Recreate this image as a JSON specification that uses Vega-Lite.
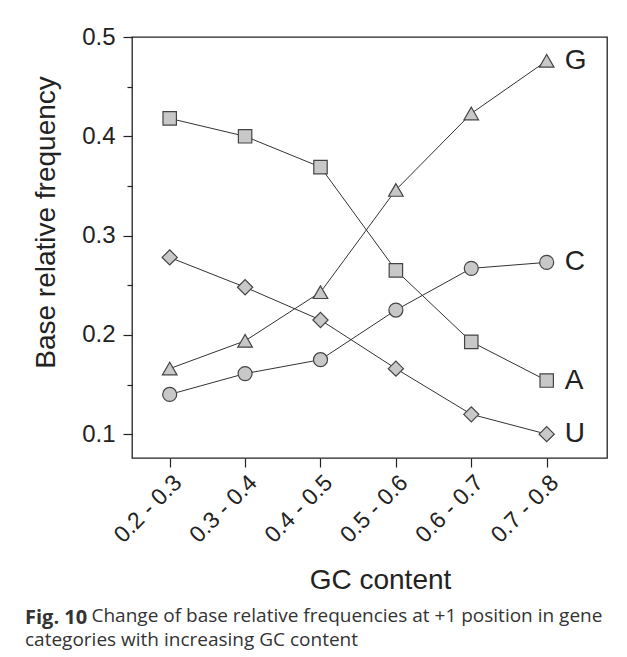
{
  "$schema": "https://vega.github.io/schema/vega-lite/v6.json",
  "autosize": "none",
  "width": 475,
  "height": 421,
  "padding": {"left": 132, "top": 37, "right": 20, "bottom": 199},
  "background": "white",
  "config": {
    "font": "Liberation Sans",
    "view": {"stroke": "#222", "strokeWidth": 1.3},
    "axis": {
      "domain": false,
      "grid": false,
      "tickColor": "#222",
      "tickWidth": 1.2,
      "labelColor": "#222",
      "titleColor": "#222",
      "labelFont": "Liberation Sans",
      "titleFont": "Liberation Sans",
      "titleFontWeight": "normal",
      "labelOverlap": false,
      "labelFlush": false
    }
  },
  "title": {
    "text": "Fig. 10",
    "subtitle": [
      "\u200b\u2003\u2003\u2003\u2002Change of base relative frequencies at +1 position in gene",
      "categories with increasing GC content"
    ],
    "orient": "bottom",
    "anchor": "start",
    "frame": "group",
    "dx": -107,
    "offset": 13,
    "font": "Open Sans",
    "fontSize": 20,
    "fontWeight": "bold",
    "color": "#333",
    "subtitleFont": "Open Sans",
    "subtitleFontSize": 19,
    "subtitleFontWeight": "normal",
    "subtitleColor": "#333",
    "subtitleLineHeight": 24,
    "subtitlePadding": -21
  },
  "data": {
    "values": [
      {"base": "A", "gc": 1, "freq": 0.418},
      {"base": "A", "gc": 2, "freq": 0.400},
      {"base": "A", "gc": 3, "freq": 0.369},
      {"base": "A", "gc": 4, "freq": 0.265},
      {"base": "A", "gc": 5, "freq": 0.193},
      {"base": "A", "gc": 6, "freq": 0.154},
      {"base": "C", "gc": 1, "freq": 0.140},
      {"base": "C", "gc": 2, "freq": 0.161},
      {"base": "C", "gc": 3, "freq": 0.175},
      {"base": "C", "gc": 4, "freq": 0.225},
      {"base": "C", "gc": 5, "freq": 0.267},
      {"base": "C", "gc": 6, "freq": 0.273},
      {"base": "G", "gc": 1, "freq": 0.166},
      {"base": "G", "gc": 2, "freq": 0.194},
      {"base": "G", "gc": 3, "freq": 0.243},
      {"base": "G", "gc": 4, "freq": 0.346},
      {"base": "G", "gc": 5, "freq": 0.423},
      {"base": "G", "gc": 6, "freq": 0.476},
      {"base": "U", "gc": 1, "freq": 0.278},
      {"base": "U", "gc": 2, "freq": 0.248},
      {"base": "U", "gc": 3, "freq": 0.215},
      {"base": "U", "gc": 4, "freq": 0.166},
      {"base": "U", "gc": 5, "freq": 0.120},
      {"base": "U", "gc": 6, "freq": 0.100}
    ]
  },
  "encoding": {
    "x": {
      "field": "gc",
      "type": "quantitative",
      "scale": {"domain": [0.5, 6.8], "nice": false, "zero": false},
      "axis": {
        "values": [1, 2, 3, 4, 5, 6],
        "labelExpr": "['','0.2 - 0.3','0.3 - 0.4','0.4 - 0.5','0.5 - 0.6','0.6 - 0.7','0.7 - 0.8'][datum.value]",
        "labelAngle": -45,
        "labelFontSize": 23,
        "labelPadding": 4,
        "tickSize": 9,
        "title": "GC content",
        "titleFontSize": 28,
        "titlePadding": 20,
        "titleX": 248
      }
    },
    "y": {
      "field": "freq",
      "type": "quantitative",
      "scale": {"domain": [0.076, 0.5], "nice": false, "zero": false},
      "axis": {
        "values": [0.1, 0.15, 0.2, 0.25, 0.3, 0.35, 0.4, 0.45, 0.5],
        "labelExpr": "abs(datum.value*10 - round(datum.value*10)) < 0.01 ? format(datum.value, '.1f') : ''",
        "tickSize": {"condition": {"test": "abs(datum.value*10 - round(datum.value*10)) < 0.01", "value": 9}, "value": 5},
        "labelFontSize": 24,
        "labelPadding": 8,
        "title": "Base relative frequency",
        "titleFontSize": 28,
        "titlePadding": 21,
        "titleY": 185
      }
    }
  },
  "layer": [
    {
      "mark": {"type": "line", "color": "#333", "strokeWidth": 1},
      "encoding": {"detail": {"field": "base"}}
    },
    {
      "mark": {"type": "point", "filled": true, "fill": "#c8c8c8", "stroke": "#444", "strokeWidth": 1.2, "opacity": 1},
      "encoding": {
        "shape": {"field": "base", "type": "nominal", "scale": {"domain": ["A", "C", "G", "U"], "range": ["square", "circle", "triangle-up", "diamond"]}, "legend": null},
        "size": {"field": "base", "type": "nominal", "scale": {"domain": ["A", "C", "G", "U"], "range": [180, 230, 300, 300]}, "legend": null}
      }
    },
    {
      "transform": [{"filter": "datum.gc == 6"}],
      "mark": {"type": "text", "align": "left", "baseline": "middle", "dx": 18, "fontSize": 28, "font": "Liberation Sans", "color": "#222"},
      "encoding": {"text": {"field": "base"}}
    }
  ]
}
